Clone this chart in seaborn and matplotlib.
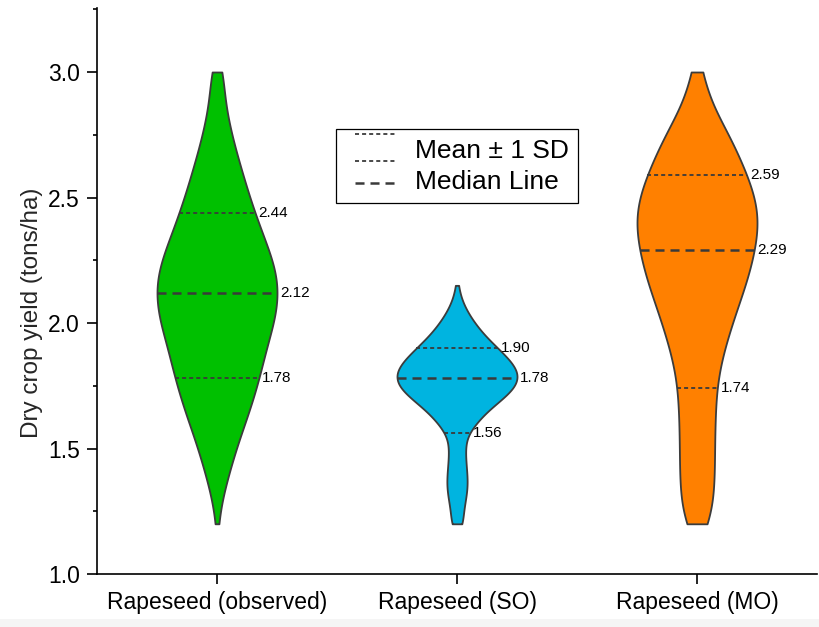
import numpy as np
import pandas as pd
import matplotlib
matplotlib.use("Agg")
import matplotlib.pyplot as plt
import seaborn as sns
from matplotlib.lines import Line2D
from matplotlib.legend_handler import HandlerBase
from matplotlib.ticker import MultipleLocator, FormatStrFormatter
from matplotlib.patches import Rectangle

# ---------------- data ----------------
categories = ["Rapeseed (observed)", "Rapeseed (SO)", "Rapeseed (MO)"]

yield_levels = [1.20, 1.25, 1.30, 1.35, 1.40, 1.45, 1.50, 1.55, 1.60, 1.65,
                1.70, 1.75, 1.80, 1.85, 1.90, 1.95, 2.00, 2.05, 2.10, 2.15,
                2.20, 2.25, 2.30, 2.35, 2.40, 2.45, 2.50, 2.55, 2.60, 2.65,
                2.70, 2.75, 2.80, 2.85, 2.90, 2.95, 3.00]

counts_observed = [3, 4, 8, 14, 19, 25, 31, 38, 45, 53,
                   59, 65, 71, 75, 80, 86, 93, 97, 100, 100,
                   97, 91, 83, 75, 67, 60, 53, 47, 41, 35,
                   29, 24, 19, 15, 12, 10, 14]

counts_so = [10, 10, 14, 17, 16, 14, 13, 15, 30, 48,
             74, 96, 100, 86, 65, 44, 28, 15, 6, 2,
             0, 0, 0, 0, 0, 0, 0, 0, 0, 0,
             0, 0, 0, 0, 0, 0, 0]

counts_mo = [28, 23, 26, 28, 28, 28, 28, 28, 29, 29,
             30, 31, 34, 38, 44, 50, 56, 63, 70, 78,
             84, 89, 93, 97, 100, 99, 94, 87, 78, 70,
             61, 52, 40, 26, 18, 12, 12]

mean_minus_sd = [1.78, 1.56, 1.74]
median_vals = [2.12, 1.78, 2.29]
mean_plus_sd = [2.44, 1.90, 2.59]

colors = ["#00C000", "#00B4E0", "#FF8000"]

# ---------------- build table ----------------
frames = []
for cat, cnt in zip(categories, [counts_observed, counts_so, counts_mo]):
    vals = np.repeat(np.array(yield_levels), np.array(cnt))
    frames.append(pd.DataFrame({"crop": cat, "yield": vals}))
df = pd.concat(frames, ignore_index=True)

# ---------------- style ----------------
sns.set_style("ticks")
plt.rcParams["font.family"] = ["Liberation Sans", "DejaVu Sans"]
plt.rcParams["lines.scale_dashes"] = False

fig = plt.figure(figsize=(8.19, 6.27), dpi=100)
ax = fig.add_axes([97 / 819, 1 - 574 / 627, (817 - 97) / 819, (574 - 8) / 627])

sns.violinplot(data=df, x="crop", y="yield", hue="crop", order=categories,
               hue_order=categories, palette=colors, saturation=1, cut=0,
               density_norm="width", width=0.5, inner=None, linewidth=1.3,
               linecolor="#3c3c3c", bw_method=0.2, gridsize=400,
               legend=False, ax=ax)

ax.set_xlim(-0.5, 2.5)
ax.set_ylim(1.0, 3.255)
ax.set_yticks([1.0, 1.5, 2.0, 2.5, 3.0])
ax.yaxis.set_major_formatter(FormatStrFormatter("%.1f"))
ax.yaxis.set_minor_locator(MultipleLocator(0.25))
ax.set_xlabel("")
ax.set_ylabel("Dry crop yield (tons/ha)", fontsize=17.5)
ax.yaxis.set_label_coords(-0.075, (574 - 313) / 566)
sns.despine(ax=ax)
for s in ["left", "bottom"]:
    ax.spines[s].set_linewidth(1.2)
    ax.spines[s].set_color("black")
ax.tick_params(axis="both", which="major", length=7.2, width=1.2,
               labelsize=16.5, colors="black", pad=5)
ax.tick_params(axis="y", which="minor", length=3, width=1.2, colors="black")

# ---------------- stat lines from violin outlines ----------------
line_col = "#3a3a3a"
violins = [c for c in ax.collections if len(c.get_paths()) > 0]


def edges_at(i, yv):
    v = None
    for c in violins:
        vv = c.get_paths()[0].vertices
        if abs(np.mean(vv[:, 0]) - i) < 0.3:
            v = vv
    left = v[v[:, 0] < i]
    right = v[v[:, 0] > i]
    lo = left[np.argsort(left[:, 1])]
    ro = right[np.argsort(right[:, 1])]
    return np.interp(yv, lo[:, 1], lo[:, 0]), np.interp(yv, ro[:, 1], ro[:, 0])


for i in range(len(categories)):
    for yv, kind in [(mean_minus_sd[i], "sd"), (median_vals[i], "med"),
                     (mean_plus_sd[i], "sd")]:
        xl, xr = edges_at(i, yv)
        if kind == "sd":
            ax.plot([xl, xr], [yv, yv], color=line_col, lw=1.3,
                    linestyle=(0, (2.9, 2.2)), zorder=5)
        else:
            ax.plot([xl, xr], [yv, yv], color=line_col, lw=1.8,
                    linestyle=(0, (6.5, 4.3)), zorder=5)
        ax.annotate(f"{yv:.2f}", xy=(xr, yv), xytext=(2.5, 0),
                    textcoords="offset points", ha="left", va="center",
                    fontsize=11, color="black")

# ---------------- legend ----------------
class MeanSDHandler(HandlerBase):
    def create_artists(self, legend, orig_handle, xdescent, ydescent, width,
                       height, fontsize, trans):
        yc = -ydescent + height / 2
        x0 = -xdescent + 0.36 * fontsize
        x1 = -xdescent + width
        a = Line2D([x0, x1], [yc + 0.55 * fontsize] * 2, color=line_col, lw=1.3,
                   linestyle=(0, (2.9, 2.2)), transform=trans)
        b = Line2D([x0, x1], [yc - 0.5 * fontsize] * 2, color=line_col, lw=1.3,
                   linestyle=(0, (2.9, 2.2)), transform=trans)
        return [a, b]


class MedianHandler(HandlerBase):
    def create_artists(self, legend, orig_handle, xdescent, ydescent, width,
                       height, fontsize, trans):
        yc = -ydescent + height / 2 - 0.12 * fontsize
        x0 = -xdescent + 0.36 * fontsize
        x1 = -xdescent + width
        a = Line2D([x0, x1], [yc, yc], color=line_col, lw=1.8,
                   linestyle=(0, (6.5, 4.3)), transform=trans)
        return [a]


h1 = Line2D([], [])
h2 = Line2D([], [])
leg = ax.legend([h1, h2], ["Mean \u00b1 1 SD", "Median Line"],
                handler_map={h1: MeanSDHandler(), h2: MedianHandler()},
                loc="upper left", bbox_to_anchor=(336 / 819, 1 - 129 / 627),
                bbox_transform=fig.transFigure, borderaxespad=0,
                fontsize=19, handlelength=1.9, handletextpad=0.72,
                borderpad=0.36, labelspacing=0.28, fancybox=False,
                framealpha=1, edgecolor="black")
leg.get_frame().set_linewidth(0.9)
for t in leg.get_texts():
    t.set_color("black")

# faint strip at the very bottom of the screenshot
fig.patches.append(Rectangle((0, 0), 1, 8 / 627, transform=fig.transFigure,
                             facecolor="#f5f5f5", edgecolor="none", zorder=-1))

fig.savefig("out.png", dpi=100)
